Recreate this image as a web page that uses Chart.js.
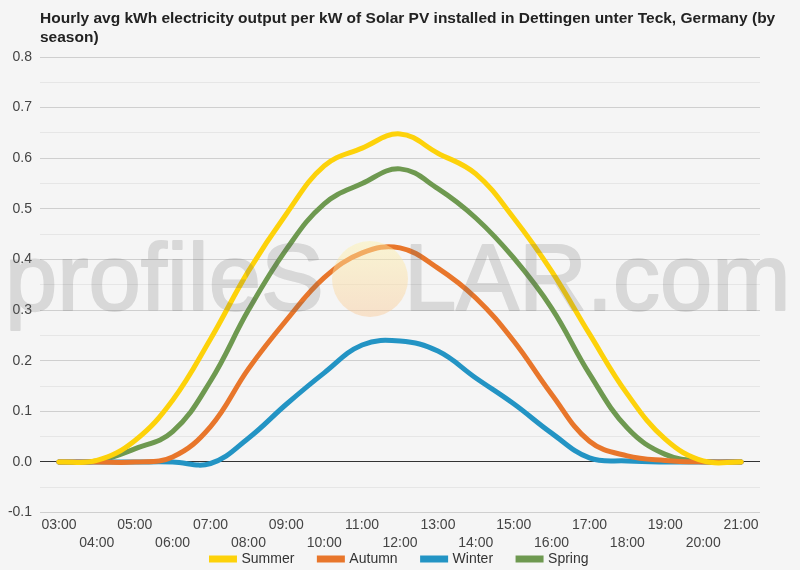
<!DOCTYPE html>
<html>
<head>
<meta charset="utf-8">
<script src="https://cdn.jsdelivr.net/npm/chart.js@4.4.1/dist/chart.umd.min.js"></script>
<style>
  html, body { margin: 0; padding: 0; background: #f5f5f5; }
  #wrap { width: 800px; height: 570px; position: relative; }
</style>
</head>
<body>
<div id="wrap"><canvas id="solarChart"></canvas></div>
<script>
// Hours on the x axis
const hours = ['03:00', '04:00', '05:00', '06:00', '07:00', '08:00', '09:00', '10:00', '11:00', '12:00',
               '13:00', '14:00', '15:00', '16:00', '17:00', '18:00', '19:00', '20:00', '21:00'];

// kWh per kW
const summer = [0, 0.003, 0.042, 0.122, 0.243, 0.377, 0.49, 0.585, 0.62, 0.648, 0.61, 0.569, 0.482, 0.377, 0.253, 0.134, 0.045, 0.002, 0];
const autumn = [0, 0, 0, 0.01, 0.07, 0.184, 0.28, 0.364, 0.413, 0.423, 0.383, 0.324, 0.239, 0.134, 0.041, 0.012, 0.003, 0, 0];
const winter = [0, 0, 0, 0, -0.003, 0.047, 0.114, 0.176, 0.231, 0.239, 0.219, 0.166, 0.115, 0.057, 0.008, 0.002, 0, 0, 0];
const spring = [0, 0.002, 0.026, 0.06, 0.16, 0.30, 0.42, 0.51, 0.55, 0.579, 0.54, 0.482, 0.403, 0.304, 0.174, 0.067, 0.015, 0.001, 0];

const titleLines = ['Hourly avg kWh electricity output per kW of Solar PV installed in Dettingen unter Teck, Germany (by', 'season)'];

const fontFamily = 'Arial, "Liberation Sans", sans-serif';

// Title drawn at the left edge of the plot area
const titlePlugin = {
    id: 'leftTitle',
    afterDraw(chart) {
        const ctx = chart.ctx;
        ctx.save();
        ctx.font = 'bold 15.5px ' + fontFamily;
        ctx.fillStyle = '#222';
        ctx.textBaseline = 'middle';
        titleLines.forEach((line, i) => ctx.fillText(line, chart.chartArea.left, 18.5 + i * 19.5));
        ctx.restore();
    }
};

// Watermark "profileSOLAR.com" with a sun in place of the O
const watermarkPlugin = {
    id: 'watermark',
    afterDatasetsDraw(chart) {
        const ctx = chart.ctx;
        // draw solid on a spare canvas, then lay it over with transparency
        const off = document.createElement('canvas');
        off.width = chart.width;
        off.height = chart.height;
        const oc = off.getContext('2d');
        oc.font = '94px ' + fontFamily;
        oc.fillStyle = '#646464';
        oc.strokeStyle = '#646464';
        oc.lineWidth = 2;
        oc.lineJoin = 'round';
        oc.fillText('profileS', 5, 310);
        oc.strokeText('profileS', 5, 310);
        oc.fillText('LAR.com', 404, 310);
        oc.strokeText('LAR.com', 404, 310);
        ctx.save();
        ctx.globalAlpha = 0.2;
        ctx.drawImage(off, 0, 0);
        ctx.globalAlpha = 1;
        const grad = ctx.createLinearGradient(0, 240, 0, 318);
        grad.addColorStop(0, 'rgba(255, 244, 170, 0.45)');
        grad.addColorStop(1, 'rgba(250, 200, 150, 0.45)');
        ctx.fillStyle = grad;
        ctx.beginPath();
        ctx.arc(370, 279, 38, 0, Math.PI * 2);
        ctx.fill();
        ctx.restore();
    }
};

// Keep the legend close under the two rows of hour labels
const legendSpace = {
    id: 'legendSpace',
    beforeLayout(chart) {
        const legend = chart.legend;
        if (legend && !legend._patched) {
            const fit = legend.fit;
            legend.fit = function () {
                fit.call(this);
                this.height = 15;
            };
            legend._patched = true;
        }
    },
    afterLayout(chart) {
        const legend = chart.legend;
        // only the top moves, so the legend's clip box still covers its items
        legend.top -= 28;
        legend.height += 28;
        // centre it on the whole canvas, not on the padded area
        legend.left += 20;
        legend.right += 20;
    }
};

const ctx = document.getElementById('solarChart').getContext('2d');

const solarChart = new Chart(ctx, {
    type: 'line',
    data: {
        labels: hours,
        datasets: [
            { label: 'Summer', data: summer, borderColor: '#fdd20a', backgroundColor: '#fdd20a' },
            { label: 'Autumn', data: autumn, borderColor: '#e8762b', backgroundColor: '#e8762b' },
            { label: 'Winter', data: winter, borderColor: '#2394c4', backgroundColor: '#2394c4' },
            { label: 'Spring', data: spring, borderColor: '#6e9950', backgroundColor: '#6e9950' }
        ]
    },
    options: {
        responsive: true,
        maintainAspectRatio: false,
        animation: false,
        elements: {
            line: { borderWidth: 5, tension: 0.4, fill: false, borderCapStyle: 'round' },
            point: { radius: 0, hoverRadius: 0 }
        },
        layout: {
            padding: { top: 57, right: 40, left: 0, bottom: 0 }
        },
        scales: {
            x: {
                offset: true,
                grid: { display: false, drawTicks: false },
                border: { display: false },
                ticks: {
                    autoSkip: false,
                    maxRotation: 0,
                    padding: 3,
                    color: '#444',
                    font: { family: fontFamily, size: 14, lineHeight: 1.3 },
                    // every second label goes on a lower row
                    callback: function (value, index) {
                        const lbl = this.getLabelForValue(value);
                        return index % 2 === 0 ? lbl : ['', lbl];
                    }
                }
            },
            y: {
                min: -0.1,
                max: 0.8,
                border: { display: false },
                afterFit: scale => { scale.width = 40; },
                grid: {
                    drawTicks: false,
                    lineWidth: 1,
                    color: c => {
                        const v = Math.round(c.tick.value * 100);
                        if (v === 0) return '#333';
                        return v % 10 === 0 ? '#cfcfcf' : '#e6e6e6';
                    }
                },
                ticks: {
                    stepSize: 0.05,
                    padding: 8,
                    color: '#444',
                    font: { family: fontFamily, size: 14 },
                    callback: value => {
                        const v = Math.round(value * 100);
                        return v % 10 === 0 ? (v / 100).toFixed(1) : '';
                    }
                }
            }
        },
        plugins: {
            legend: {
                position: 'bottom',
                labels: {
                    boxWidth: 23,
                    boxHeight: 2,
                    padding: 25,
                    color: '#333',
                    font: { family: fontFamily, size: 14 }
                }
            },
            tooltip: { enabled: false },
            title: { display: false }
        }
    },
    plugins: [watermarkPlugin, titlePlugin, legendSpace]
});
</script>
</body>
</html>
